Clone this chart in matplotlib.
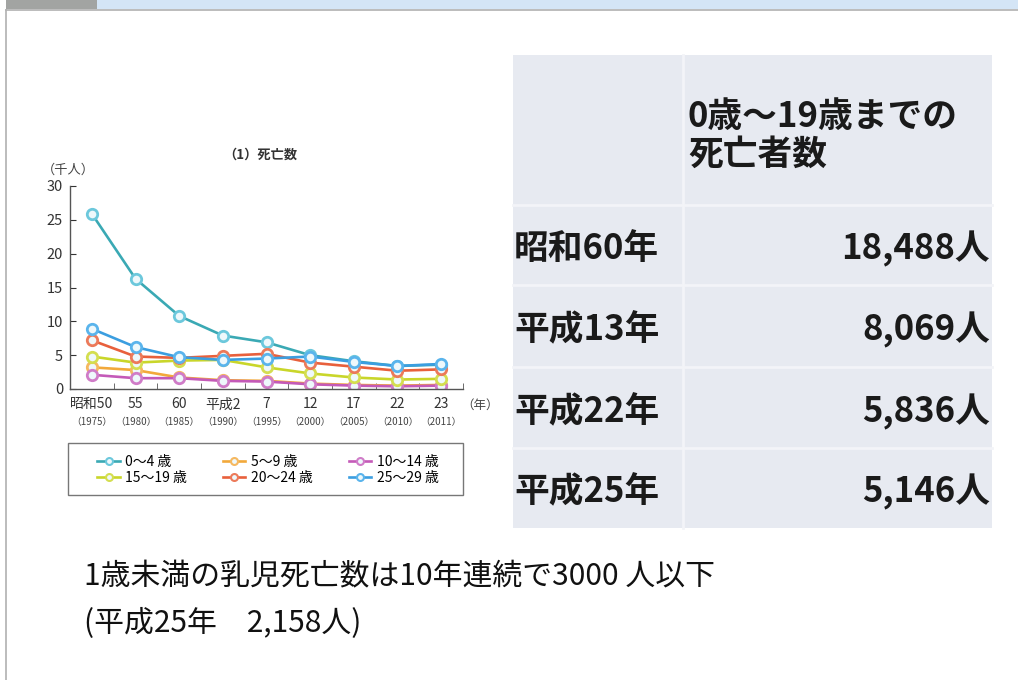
import numpy as np
import matplotlib.pyplot as plt
from matplotlib.patches import Rectangle
from matplotlib.ticker import FixedLocator

plt.rcParams['font.family'] = ['Noto Sans CJK JP', 'DejaVu Sans']

# --- data (thousand persons) ---
era_labels = ['昭和50', '55', '60', '平成2', '7', '12', '17', '22', '23']
year_labels = ['（1975）', '（1980）', '（1985）', '（1990）', '（1995）',
               '（2000）', '（2005）', '（2010）', '（2011）']

age_0_4 = [25.9, 16.3, 10.8, 7.9, 6.9, 5.0, 4.1, 3.4, 3.6]
age_5_9 = [3.2, 2.8, 1.7, 1.3, 1.2, 0.8, 0.6, 0.5, 0.6]
age_10_14 = [2.1, 1.6, 1.6, 1.2, 1.1, 0.7, 0.5, 0.4, 0.5]
age_15_19 = [4.8, 3.9, 4.2, 4.3, 3.2, 2.3, 1.7, 1.4, 1.5]
age_20_24 = [7.2, 4.8, 4.6, 4.9, 5.2, 3.9, 3.3, 2.7, 2.9]
age_25_29 = [8.9, 6.2, 4.7, 4.3, 4.5, 4.8, 4.0, 3.4, 3.7]

series_names = ['0〜4 歳', '5〜9 歳', '10〜14 歳', '15〜19 歳', '20〜24 歳', '25〜29 歳']
series_values = [age_0_4, age_5_9, age_10_14, age_15_19, age_20_24, age_25_29]
line_colors = ['#3aa9b4', '#f2a93b', '#c45ab8', '#c9d62a', '#e8603c', '#3b9ee0']
marker_colors = ['#6cc8dc', '#f5b860', '#d07cc8', '#d4de50', '#ec7a5a', '#5ab4ec']

table_header = '0歳～19歳までの\n死亡者数'
table_rows = ['昭和60年', '平成13年', '平成22年', '平成25年']
table_values = ['18,488人', '8,069人', '5,836人', '5,146人']

note_lines = ['1歳未満の乳児死亡数は10年連続で3000 人以下', '(平成25年　2,158人)']

W, H = 1018, 680
fig = plt.figure(figsize=(W / 100, H / 100), dpi=100)
fig.patch.set_facecolor('white')


def fx(px):
    return px / W


def fy(py):
    return 1 - py / H


# slide decoration
bg = fig.add_axes([0, 0, 1, 1])
bg.set_xlim(0, W)
bg.set_ylim(H, 0)
bg.axis('off')
bg.add_patch(Rectangle((97, 0), W - 97, 9, color='#d4e5f6', lw=0))
bg.add_patch(Rectangle((6, 0), 91, 9, color='#a2a4a2', lw=0))
bg.plot([6, W], [10, 10], color='#b0b0b0', lw=1.2)
bg.plot([6.5, 6.5], [10, H], color='#b0b0b0', lw=1.2)

# --- line chart ---
ax = fig.add_axes([fx(70), fy(389), fx(463 - 70), (389 - 186) / H])
x = np.arange(len(era_labels))
handles = []
for name, vals, lc, mc in zip(series_names, series_values, line_colors, marker_colors):
    h, = ax.plot(x, vals, color=lc, lw=1.9, marker='o', ms=7.5,
                 markerfacecolor='#eef8fb', markeredgecolor=mc, markeredgewidth=2,
                 label=name)
    handles.append(h)

ax.set_xlim(-0.5, 8.5)
ax.set_ylim(0, 30)
ax.set_yticks(range(0, 31, 5))
ax.set_xticks(x)
ax.set_xticklabels(era_labels, fontsize=10)
ax.xaxis.set_minor_locator(FixedLocator(np.arange(0.5, 9, 1)))
ax.tick_params(axis='x', which='major', length=0, pad=6, colors='#333333')
ax.tick_params(axis='x', which='minor', direction='in', length=4, color='#555555')
ax.tick_params(axis='y', direction='in', length=4, labelsize=10.5, colors='#333333', pad=5)
for s in ['top', 'right']:
    ax.spines[s].set_visible(False)
for s in ['left', 'bottom']:
    ax.spines[s].set_color('#555555')
    ax.spines[s].set_linewidth(1)
ax.set_facecolor('none')

for i, yl in enumerate(year_labels):
    ax.text(i, -0.163, yl, transform=ax.get_xaxis_transform(), ha='center', va='center',
            fontsize=7, color='#444444')

fig.text(fx(260), fy(155), '（1）死亡数', ha='center', va='center', fontsize=9.5,
         fontweight='bold', color='#333333')
fig.text(fx(68), fy(170), '（千人）', ha='center', va='center', fontsize=9.5, color='#444444')
fig.text(fx(480), fy(405), '（年）', ha='center', va='center', fontsize=9, color='#444444')

# legend: row-wise order, frame drawn separately
order = [0, 3, 1, 4, 2, 5]
leg = fig.legend([handles[i] for i in order], [series_names[i] for i in order],
                 ncol=3, loc='center', bbox_to_anchor=(fx(268), fy(470)),
                 fontsize=10, frameon=False, handlelength=1.6, handletextpad=0.4,
                 columnspacing=2.6, labelspacing=0.15, borderpad=0)
for h in leg.legend_handles:
    h.set_markersize(5)
    h.set_markeredgewidth(1.5)
bg.add_patch(Rectangle((68, 443), 395, 52, facecolor='none', edgecolor='#777777', lw=1))

# --- summary table ---
tx0, tx1, ty0, ty1 = 513, 992, 55, 528
col_split = 683
row_lines = [205, 285, 367, 448]
bg.add_patch(Rectangle((tx0, ty0), tx1 - tx0, ty1 - ty0, color='#e7eaf1', lw=0))
bg.plot([col_split, col_split], [ty0, ty1], color='#f3f4f8', lw=2)
for ry in row_lines:
    bg.plot([tx0, tx1], [ry, ry], color='#f3f4f8', lw=2)

bg.text(688, 135, table_header, ha='left', va='center', fontsize=25, fontweight='bold',
        color='#1a1a1a', linespacing=1.1)
row_edges = row_lines + [ty1]
for i, (lab, val) in enumerate(zip(table_rows, table_values)):
    yc = (row_edges[i] + row_edges[i + 1]) / 2 + 4
    bg.text(514, yc, lab, ha='left', va='center', fontsize=25, fontweight='bold', color='#1a1a1a')
    bg.text(990, yc, val, ha='right', va='center', fontsize=25, fontweight='bold', color='#1a1a1a')

# --- note ---
bg.text(84, 577, note_lines[0], ha='left', va='center', fontsize=21.5, color='#111111')
bg.text(84, 623, note_lines[1], ha='left', va='center', fontsize=21.5, color='#111111')

fig.savefig('out.png', dpi=100)
